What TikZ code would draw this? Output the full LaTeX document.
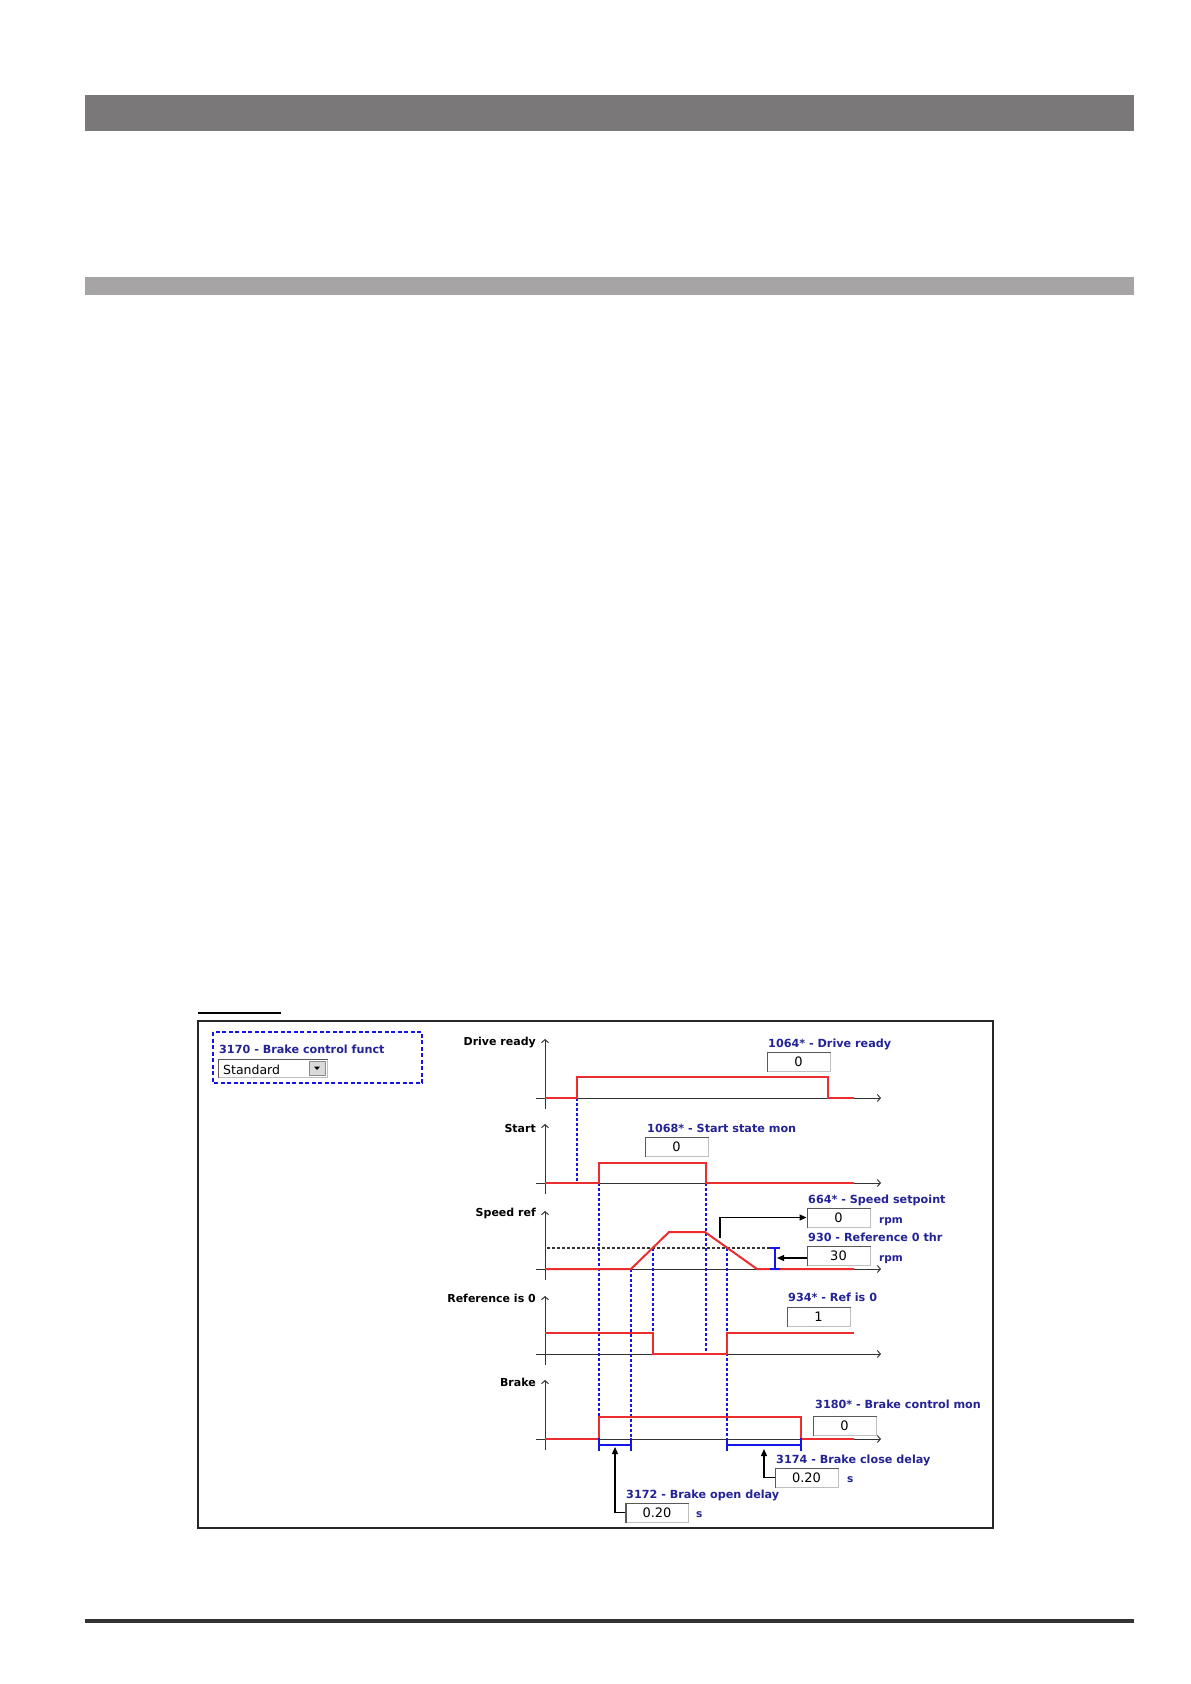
\documentclass[tikz,border=0pt]{standalone}
\usepackage{fontspec}
\setmainfont{DejaVu Sans}
\usetikzlibrary{arrows.meta}
\definecolor{redsig}{RGB}{235,45,45}
\definecolor{bluedash}{RGB}{20,20,230}
\definecolor{lblblue}{RGB}{35,35,150}
\definecolor{barDark}{RGB}{122,120,121}
\definecolor{barLight}{RGB}{166,164,165}
\tikzset{
 sig/.style={redsig, line width=2pt, line join=miter},
 axisarrow/.style={black!80, line width=1pt, -{Straight Barb[length=3pt,width=7pt]}},
 vdash/.style={bluedash, line width=1.4pt, dash pattern=on 3pt off 2pt},
 bluelbl/.style={text=lblblue, font=\fontsize{11.2}{13}\selectfont\bfseries, inner sep=0pt, anchor=base west},
 blacklbl/.style={text=black, font=\fontsize{11}{13}\selectfont\bfseries, inner sep=0pt, anchor=base east},
 unitlbl/.style={text=lblblue, font=\fontsize{10.5}{12}\selectfont\bfseries, inner sep=0pt, anchor=base west},
 valbox/.style={draw=black!25, line width=1pt, fill=white, minimum width=63pt, minimum height=19pt, inner sep=0pt, font=\fontsize{13}{15}\selectfont},
 ptr/.style={black, line width=1.3pt, -{Triangle[length=7pt,width=6pt]}},
 bracket/.style={bluedash, line width=1.8pt},
 threshold/.style={black!80, line width=1.2pt, dash pattern=on 3pt off 2pt},
}
\newcommand\sunkenedge[1]{\draw[black!65,line width=1.8pt] ([xshift=0.9pt]#1.south west) |- ([yshift=-0.9pt]#1.north east);}

\begin{document}
\begin{tikzpicture}[x=1pt,y=-1pt]
\useasboundingbox (0,0) rectangle (1191,1684);
\fill[white] (0,0) rectangle (1191,1684);
% page decoration
\fill[barDark] (85,95) rectangle (1134,131);
\fill[barLight] (85,277) rectangle (1134,295);
\fill[black!80] (85,1619) rectangle (1134,1623);
\draw[black, line width=2pt] (198,1013) -- (281,1013);
% frame
\draw[black!85, line width=2.5pt] (198,1021) rectangle (993,1528);

% brake control function selector
\draw[bluedash, line width=2pt, dash pattern=on 4pt off 2.5pt] (213,1032) rectangle (422,1083);
\node[bluelbl] (l3170) at (219,1053) {3170 - Brake control funct};
\node[valbox, minimum width=109pt, minimum height=18pt] (dd) at (272.5,1068) {};
\sunkenedge{dd}
\node[text=black, font=\fontsize{12.5}{14}\selectfont, inner sep=0pt, anchor=base west] (stdtxt) at (223,1074) {Standard};
\node[draw=black!45, fill=black!15, minimum width=16pt, minimum height=14pt, inner sep=0pt] (ddbtn) at (317,1068) {};
\fill[black] (314,1066.5) -- (320,1066.5) -- (317,1070) -- cycle;

% axes
\foreach \yz/\yt in {1098/1039, 1183/1124, 1269/1211, 1354/1296, 1439/1380} {
  \draw[axisarrow] (545,\yz+11) -- (545,\yt);
  \draw[axisarrow] (536,\yz) -- (881,\yz);
}
\node[blacklbl] (tDR) at (536,1045) {Drive ready};
\node[blacklbl] (tST) at (536,1132) {Start};
\node[blacklbl] (tSR) at (536,1216) {Speed ref};
\node[blacklbl] (tR0) at (536,1302) {Reference is 0};
\node[blacklbl] (tBR) at (536,1386) {Brake};

% blue dashed timing lines
\draw[vdash] (577,1098) -- (577,1183);
\draw[vdash] (599,1183) -- (599,1445);
\draw[vdash] (631,1269) -- (631,1445);
\draw[vdash] (653,1248) -- (653,1354);
\draw[vdash] (706,1183) -- (706,1354);
\draw[vdash] (727,1248) -- (727,1445);

% threshold
\draw[threshold] (547,1248) -- (776,1248);

% signals
\draw[sig] (545,1098) -- (577,1098) -- (577,1077) -- (828,1077) -- (828,1098) -- (854,1098);
\draw[sig] (545,1183) -- (599,1183) -- (599,1163) -- (706,1163) -- (706,1183) -- (854,1183);
\draw[sig] (545,1269) -- (631,1269) -- (669,1232) -- (705,1232) -- (757,1269) -- (854,1269);
\draw[sig] (545,1333) -- (653,1333) -- (653,1354) -- (727,1354) -- (727,1333) -- (854,1333);
\draw[sig] (545,1439) -- (599,1439) -- (599,1417) -- (801,1417) -- (801,1439) -- (854,1439);

% brackets
\draw[bracket] (775,1248) -- (775,1269);
\draw[bracket] (770,1248) -- (780,1248);
\draw[bracket] (770,1269) -- (780,1269);
\draw[bracket] (599,1445) -- (631,1445);
\draw[bracket] (599,1438) -- (599,1451);
\draw[bracket] (631,1438) -- (631,1451);
\draw[bracket] (727,1445) -- (801,1445);
\draw[bracket] (727,1438) -- (727,1451);
\draw[bracket] (801,1438) -- (801,1451);

% parameter labels and boxes
\node[bluelbl] (l1064) at (768,1047) {1064* - Drive ready};
\node[valbox] (b1064) at (798.5,1061.5) {0};
\sunkenedge{b1064}

\node[bluelbl] (l1068) at (647,1132) {1068* - Start state mon};
\node[valbox] (b1068) at (676.5,1146.5) {0};
\sunkenedge{b1068}

\node[bluelbl] (l664) at (808,1203) {664* - Speed setpoint};
\node[valbox] (b664) at (838.5,1217.5) {0};
\sunkenedge{b664}
\node[unitlbl] (u664) at (879,1223) {rpm};

\node[bluelbl] (l930) at (808,1241) {930 - Reference 0 thr};
\node[valbox] (b930) at (838.5,1255.5) {30};
\sunkenedge{b930}
\node[unitlbl] (u930) at (879,1261) {rpm};

\node[bluelbl] (l934) at (788,1301) {934* - Ref is 0};
\node[valbox] (b934) at (818.5,1316.5) {1};
\sunkenedge{b934}

\node[bluelbl] (l3180) at (815,1408) {3180* - Brake control mon};
\node[valbox] (b3180) at (844.5,1425.5) {0};
\sunkenedge{b3180}

\node[bluelbl] (l3174) at (776,1463) {3174 - Brake close delay};
\node[valbox] (b3174) at (806.5,1477.5) {0.20};
\sunkenedge{b3174}
\node[unitlbl] (u3174) at (847,1482) {s};

\node[bluelbl] (l3172) at (626,1498) {3172 - Brake open delay};
\node[valbox] (b3172) at (657,1512.5) {0.20};
\sunkenedge{b3172}
\node[unitlbl] (u3172) at (696,1517) {s};

% pointers
\coordinate (spdpt) at (720,1238);
\draw[ptr] (spdpt) |- (b664.west);
\coordinate (thrpt) at (777,1258);
\draw[ptr] (b930.west |- thrpt) -- (thrpt);
\coordinate (opnpt) at (615,1447);
\draw[ptr] (b3172.west) -| (opnpt);
\coordinate (clspt) at (764,1449);
\draw[ptr] (b3174.west) -| (clspt);
\end{tikzpicture}
\end{document}
